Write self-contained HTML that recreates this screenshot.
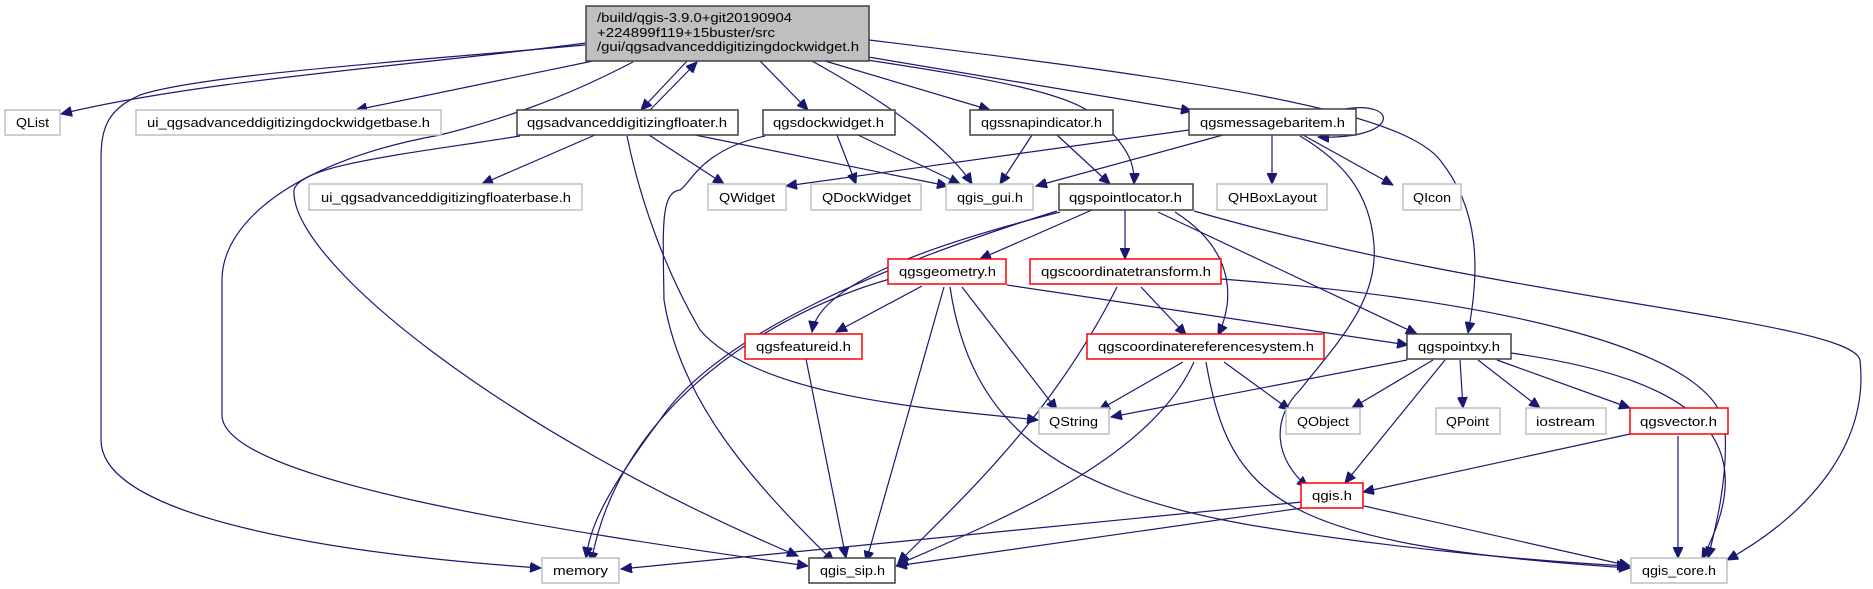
<!DOCTYPE html>
<html><head><meta charset="utf-8"><style>
html,body{margin:0;padding:0;background:#fff;}
svg{display:block;}
text{font-family:"Liberation Sans",sans-serif;font-size:13px;fill:#000;}
.e{fill:none;stroke:#191970;stroke-width:1.2;}
.g{fill:#fff;stroke:#bfbfbf;stroke-width:1.5;}
.b{fill:#fff;stroke:#404040;stroke-width:1.5;}
.r{fill:#fff;stroke:#ff0000;stroke-width:1.5;}
</style></head><body>
<svg width="1873" height="589" viewBox="0 0 1873 589" xmlns="http://www.w3.org/2000/svg">
<defs>
<marker id="a" markerUnits="userSpaceOnUse" markerWidth="12" markerHeight="10" refX="11" refY="5" orient="auto">
<path d="M0,0 L11,5 L0,10 z" fill="#191970" stroke="#191970"/>
</marker>
</defs>
<g marker-end="url(#a)">
<!-- main edges -->
<path class="e" d="M586,43 C420,65 200,80 61,114"/>
<path class="e" d="M585,45 C400,62 200,75 140,95 C106,110 101,130 101,160 L101,440 C101,520 350,555 541,568"/>
<path class="e" d="M593,61 L356,110"/>
<path class="e" d="M633,62 C560,100 500,120 440,135 C300,160 222,220 222,280 L222,415 C222,480 550,530 808,566"/>
<path class="e" d="M687,61 L641,110"/>
<path class="e" d="M650,110 L697,62"/>
<path class="e" d="M760,61 L808,110"/>
<path class="e" d="M812,61 C900,110 950,150 972,184"/>
<path class="e" d="M825,61 L990,110"/>
<path class="e" d="M854,58 C1000,80 1075,94 1100,120 C1130,150 1135,165 1134,184"/>
<path class="e" d="M868,57 L1192,111"/>
<path class="e" d="M869,40 C1200,80 1400,110 1440,160 C1480,210 1480,270 1468,333"/>
<!-- floater -->
<path class="e" d="M595,135 L482,184"/>
<path class="e" d="M649,135 L724,184"/>
<path class="e" d="M695,135 L948,186"/>
<path class="e" d="M627,136 C640,200 665,270 700,330 C760,400 950,410 1038,420"/>
<path class="e" d="M520,136 C400,155 300,165 294,190 C290,260 500,430 798,556"/>
<!-- dockwidget -->
<path class="e" d="M837,135 L856,184"/>
<path class="e" d="M858,135 L960,184"/>
<path class="e" d="M765,136 C700,150 690,185 680,190 C660,192 663,230 664,300 C680,400 750,480 834,562"/>
<!-- snap -->
<path class="e" d="M1032,135 L1000,184"/>
<path class="e" d="M1057,135 L1110,184"/>
<!-- messagebar -->
<path class="e" d="M1345,109 C1400,100 1400,140 1318,137"/>
<path class="e" d="M1189,130 L786,186"/>
<path class="e" d="M1223,135 L1036,186"/>
<path class="e" d="M1272,135 L1272,184"/>
<path class="e" d="M1303,135 L1393,185"/>
<path class="e" d="M1300,136 C1340,160 1370,190 1374,245 C1378,300 1340,340 1300,390 C1270,420 1275,460 1308,487"/>
<!-- pointlocator -->
<path class="e" d="M1057,211 C900,260 720,330 660,420 C600,500 590,530 586,558"/>
<path class="e" d="M1060,212 C950,240 820,280 812,332"/>
<path class="e" d="M1092,210 L980,259"/>
<path class="e" d="M1125,210 L1125,259"/>
<path class="e" d="M1175,212 C1235,250 1235,300 1218,335"/>
<path class="e" d="M1158,212 L1417,334"/>
<path class="e" d="M1194,211 C1500,300 1850,320 1860,360 C1870,450 1800,520 1727,560"/>
<!-- geometry -->
<path class="e" d="M890,279 C780,310 620,400 591,563"/>
<path class="e" d="M922,286 L836,332"/>
<path class="e" d="M944,287 L866,562"/>
<path class="e" d="M962,287 L1057,410"/>
<path class="e" d="M950,287 C970,420 1050,490 1250,525 C1400,550 1550,562 1628,566"/>
<path class="e" d="M1007,285 L1408,345"/>
<!-- coordtransform -->
<path class="e" d="M1117,287 C1050,420 960,500 898,563"/>
<path class="e" d="M1141,287 L1186,335"/>
<path class="e" d="M1221,279 C1500,300 1720,350 1725,430 C1728,480 1715,530 1708,558"/>
<!-- featureid -->
<path class="e" d="M806,359 L846,558"/>
<!-- crs -->
<path class="e" d="M1183,362 L1099,410"/>
<path class="e" d="M1194,362 C1150,460 1000,520 897,565"/>
<path class="e" d="M1224,362 L1290,410"/>
<path class="e" d="M1206,362 C1230,500 1280,545 1630,568"/>
<!-- pointxy -->
<path class="e" d="M1407,360 L1111,417"/>
<path class="e" d="M1433,360 L1352,408"/>
<path class="e" d="M1445,360 L1345,483"/>
<path class="e" d="M1460,360 L1463,408"/>
<path class="e" d="M1478,360 L1540,408"/>
<path class="e" d="M1497,360 L1630,408"/>
<path class="e" d="M1511,353 C1700,380 1765,440 1702,559"/>
<!-- vector -->
<path class="e" d="M1630,434 L1363,492"/>
<path class="e" d="M1678,436 L1678,558"/>
<!-- qgis.h -->
<path class="e" d="M1302,502 L621,569"/>
<path class="e" d="M1302,508 L896,566"/>
<path class="e" d="M1364,506 L1630,566"/>
</g>

<!-- nodes -->
<rect x="586" y="6" width="283" height="55" fill="#bfbfbf" stroke="#404040" stroke-width="1.5"/>
<text x="597" y="22" textLength="195" lengthAdjust="spacingAndGlyphs">/build/qgis-3.9.0+git20190904</text>
<text x="597" y="37" textLength="178" lengthAdjust="spacingAndGlyphs">+224899f119+15buster/src</text>
<text x="597" y="51" textLength="262" lengthAdjust="spacingAndGlyphs">/gui/qgsadvanceddigitizingdockwidget.h</text>

<rect class="g" x="5" y="110" width="55" height="25"/><text x="16" y="127" textLength="33" lengthAdjust="spacingAndGlyphs">QList</text>
<rect class="g" x="136" y="110" width="305" height="25"/><text x="147" y="127" textLength="283" lengthAdjust="spacingAndGlyphs">ui_qgsadvanceddigitizingdockwidgetbase.h</text>
<rect class="b" x="517" y="110" width="221" height="25"/><text x="527" y="127" textLength="200" lengthAdjust="spacingAndGlyphs">qgsadvanceddigitizingfloater.h</text>
<rect class="b" x="763" y="110" width="132" height="25"/><text x="773" y="127" textLength="111" lengthAdjust="spacingAndGlyphs">qgsdockwidget.h</text>
<rect class="b" x="970" y="110" width="143" height="25"/><text x="981" y="127" textLength="121" lengthAdjust="spacingAndGlyphs">qgssnapindicator.h</text>
<rect class="b" x="1189" y="109" width="167" height="26"/><text x="1200" y="127" textLength="145" lengthAdjust="spacingAndGlyphs">qgsmessagebaritem.h</text>

<rect class="g" x="309" y="184" width="273" height="26"/><text x="321" y="202" textLength="250" lengthAdjust="spacingAndGlyphs">ui_qgsadvanceddigitizingfloaterbase.h</text>
<rect class="g" x="708" y="184" width="78" height="26"/><text x="719" y="202" textLength="56" lengthAdjust="spacingAndGlyphs">QWidget</text>
<rect class="g" x="811" y="184" width="110" height="26"/><text x="822" y="202" textLength="89" lengthAdjust="spacingAndGlyphs">QDockWidget</text>
<rect class="g" x="946" y="184" width="87" height="26"/><text x="957" y="202" textLength="66" lengthAdjust="spacingAndGlyphs">qgis_gui.h</text>
<rect class="b" x="1059" y="184" width="134" height="26"/><text x="1069" y="202" textLength="113" lengthAdjust="spacingAndGlyphs">qgspointlocator.h</text>
<rect class="g" x="1217" y="184" width="110" height="26"/><text x="1228" y="202" textLength="89" lengthAdjust="spacingAndGlyphs">QHBoxLayout</text>
<rect class="g" x="1403" y="184" width="58" height="26"/><text x="1413" y="202" textLength="38" lengthAdjust="spacingAndGlyphs">QIcon</text>

<rect class="r" x="888" y="259" width="118" height="25"/><text x="899" y="276" textLength="97" lengthAdjust="spacingAndGlyphs">qgsgeometry.h</text>
<rect class="r" x="1030" y="259" width="191" height="25"/><text x="1041" y="276" textLength="170" lengthAdjust="spacingAndGlyphs">qgscoordinatetransform.h</text>

<rect class="r" x="745" y="334" width="117" height="25"/><text x="756" y="351" textLength="95" lengthAdjust="spacingAndGlyphs">qgsfeatureid.h</text>
<rect class="r" x="1087" y="334" width="237" height="25"/><text x="1098" y="351" textLength="216" lengthAdjust="spacingAndGlyphs">qgscoordinatereferencesystem.h</text>
<rect class="b" x="1407" y="334" width="104" height="25"/><text x="1418" y="351" textLength="82" lengthAdjust="spacingAndGlyphs">qgspointxy.h</text>

<rect class="g" x="1039" y="408" width="70" height="26"/><text x="1049" y="426" textLength="49" lengthAdjust="spacingAndGlyphs">QString</text>
<rect class="g" x="1286" y="408" width="74" height="26"/><text x="1297" y="426" textLength="52" lengthAdjust="spacingAndGlyphs">QObject</text>
<rect class="g" x="1436" y="408" width="64" height="26"/><text x="1446" y="426" textLength="43" lengthAdjust="spacingAndGlyphs">QPoint</text>
<rect class="g" x="1526" y="408" width="80" height="26"/><text x="1536" y="426" textLength="59" lengthAdjust="spacingAndGlyphs">iostream</text>
<rect class="r" x="1630" y="408" width="98" height="26"/><text x="1640" y="426" textLength="77" lengthAdjust="spacingAndGlyphs">qgsvector.h</text>

<rect class="r" x="1301" y="483" width="62" height="25"/><text x="1312" y="500" textLength="40" lengthAdjust="spacingAndGlyphs">qgis.h</text>

<rect class="g" x="542" y="558" width="77" height="25"/><text x="553" y="575" textLength="55" lengthAdjust="spacingAndGlyphs">memory</text>
<rect class="b" x="809" y="558" width="86" height="25"/><text x="820" y="575" textLength="65" lengthAdjust="spacingAndGlyphs">qgis_sip.h</text>
<rect class="g" x="1631" y="558" width="96" height="25"/><text x="1642" y="575" textLength="74" lengthAdjust="spacingAndGlyphs">qgis_core.h</text>
</svg>
</body></html>
